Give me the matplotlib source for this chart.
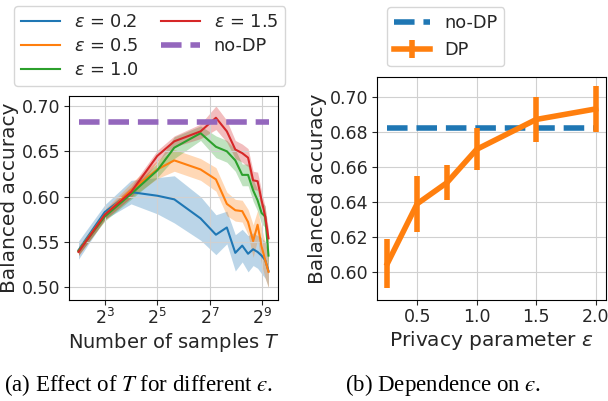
import matplotlib
matplotlib.use("Agg")
import matplotlib.pyplot as plt
import numpy as np

# left panel: accuracy vs number of samples T
T = [4, 8, 16, 32, 50, 100, 150, 200, 250, 300, 350, 400, 450, 500, 550, 600]
eps_labels = ["0.2", "0.5", "1.0", "1.5"]
acc_02 = [0.541, 0.583, 0.605, 0.601, 0.597, 0.576, 0.558, 0.566, 0.538, 0.546, 0.537, 0.542, 0.539, 0.535, 0.530, 0.518]
acc_05 = [0.540, 0.580, 0.607, 0.630, 0.640, 0.630, 0.619, 0.592, 0.585, 0.584, 0.572, 0.551, 0.569, 0.545, 0.530, 0.517]
acc_10 = [0.540, 0.578, 0.603, 0.629, 0.654, 0.670, 0.655, 0.650, 0.640, 0.624, 0.624, 0.607, 0.596, 0.582, 0.578, 0.535]
acc_15 = [0.539, 0.580, 0.605, 0.645, 0.661, 0.672, 0.687, 0.672, 0.652, 0.648, 0.643, 0.618, 0.617, 0.596, 0.578, 0.554]
sd_02 = [0.010, 0.008, 0.013, 0.020, 0.026, 0.024, 0.022, 0.018, 0.020, 0.018, 0.020, 0.018, 0.018, 0.020, 0.020, 0.018]
sd_05 = [0.005, 0.006, 0.008, 0.010, 0.012, 0.012, 0.013, 0.013, 0.012, 0.012, 0.014, 0.018, 0.016, 0.020, 0.020, 0.018]
sd_10 = [0.004, 0.005, 0.006, 0.008, 0.012, 0.008, 0.012, 0.012, 0.012, 0.012, 0.012, 0.012, 0.012, 0.012, 0.012, 0.010]
sd_15 = [0.004, 0.005, 0.006, 0.006, 0.006, 0.008, 0.013, 0.012, 0.010, 0.010, 0.010, 0.010, 0.010, 0.010, 0.010, 0.010]
nodp_acc = 0.682

# right panel: accuracy vs privacy parameter
eps = [0.25, 0.5, 0.75, 1.0, 1.5, 2.0]
dp_acc = [0.605, 0.639, 0.651, 0.670, 0.687, 0.693]
dp_err = [0.014, 0.016, 0.010, 0.012, 0.013, 0.013]

colors = ["#1f77b4", "#ff7f0e", "#2ca02c", "#d62728"]
txt = "#262626"
plt.rcParams["text.color"] = txt
plt.rcParams["axes.labelcolor"] = txt
plt.rcParams["xtick.color"] = txt
plt.rcParams["ytick.color"] = txt

fig = plt.figure(figsize=(6.08, 4.01), dpi=100)
ax1 = fig.add_axes([69/608, 1-300/401, 209/608, 204/401])
ax2 = fig.add_axes([377/608, 1-300/401, 229/608, 223/401])

accs = [acc_02, acc_05, acc_10, acc_15]
sds = [sd_02, sd_05, sd_10, sd_15]
for a, s, c, lab in zip(accs, sds, colors, eps_labels):
    a = np.array(a)
    s = np.array(s)
    ax1.plot(T, a, color=c, lw=1.5, label=r"$\varepsilon$ = " + lab)
    ax1.fill_between(T, a - s, a + s, color=c, alpha=0.3, lw=0)
ax1.plot([T[0], T[-1]], [nodp_acc, nodp_acc], "--", color="#9467bd", lw=4, label="no-DP")

ax1.set_xscale("log", base=2)
ax1.set_xticks([2**3, 2**5, 2**7, 2**9])
ax1.minorticks_off()
ax1.set_ylim(0.486, 0.711)
ax1.set_yticks([0.50, 0.55, 0.60, 0.65, 0.70])
ax1.set_xlabel("Number of samples $T$", fontsize=14, labelpad=2)
ax1.set_ylabel("Balanced accuracy", fontsize=14.5, labelpad=2)
ax1.grid(True, color="#d0d0d0")
ax1.tick_params(labelsize=12.5, pad=2.5)
ax1.legend(ncol=2, loc="upper left", bbox_to_anchor=(14/608, 1-6/401),
           bbox_transform=fig.transFigure, borderaxespad=0, fontsize=12.8,
           handlelength=2.2, columnspacing=1.2, labelspacing=0.33)

ax2.plot([eps[0], eps[-1]], [nodp_acc, nodp_acc], "--", color="#1f77b4", lw=4, label="no-DP")
ax2.errorbar(eps, dp_acc, yerr=dp_err, color="#ff7f0e", lw=4, elinewidth=4, capsize=0, label="DP")
ax2.set_ylim(0.5842, 0.7112)
ax2.set_yticks([0.60, 0.62, 0.64, 0.66, 0.68, 0.70])
ax2.set_xticks([0.5, 1.0, 1.5, 2.0])
ax2.set_xlabel(r"Privacy parameter $\varepsilon$", fontsize=14.5, labelpad=2)
ax2.set_ylabel("Balanced accuracy", fontsize=14.5, labelpad=2)
ax2.grid(True, color="#d0d0d0")
ax2.tick_params(labelsize=12.5, pad=2.5)
ax2.legend(loc="upper left", bbox_to_anchor=(387/608, 1-7/401),
           bbox_transform=fig.transFigure, borderaxespad=0, fontsize=12.8)

fig.text(139/608, 1-385/401, "(a) Effect of $T$ for different $\u03f5$.",
         ha="center", va="center", fontsize=16.5, color="black",
         family="Liberation Serif", math_fontfamily="stix")
fig.text(443/608, 1-385/401, "(b) Dependence on $\u03f5$.",
         ha="center", va="center", fontsize=16.5, color="black",
         family="Liberation Serif", math_fontfamily="stix")

fig.savefig("out.png", dpi=100)
